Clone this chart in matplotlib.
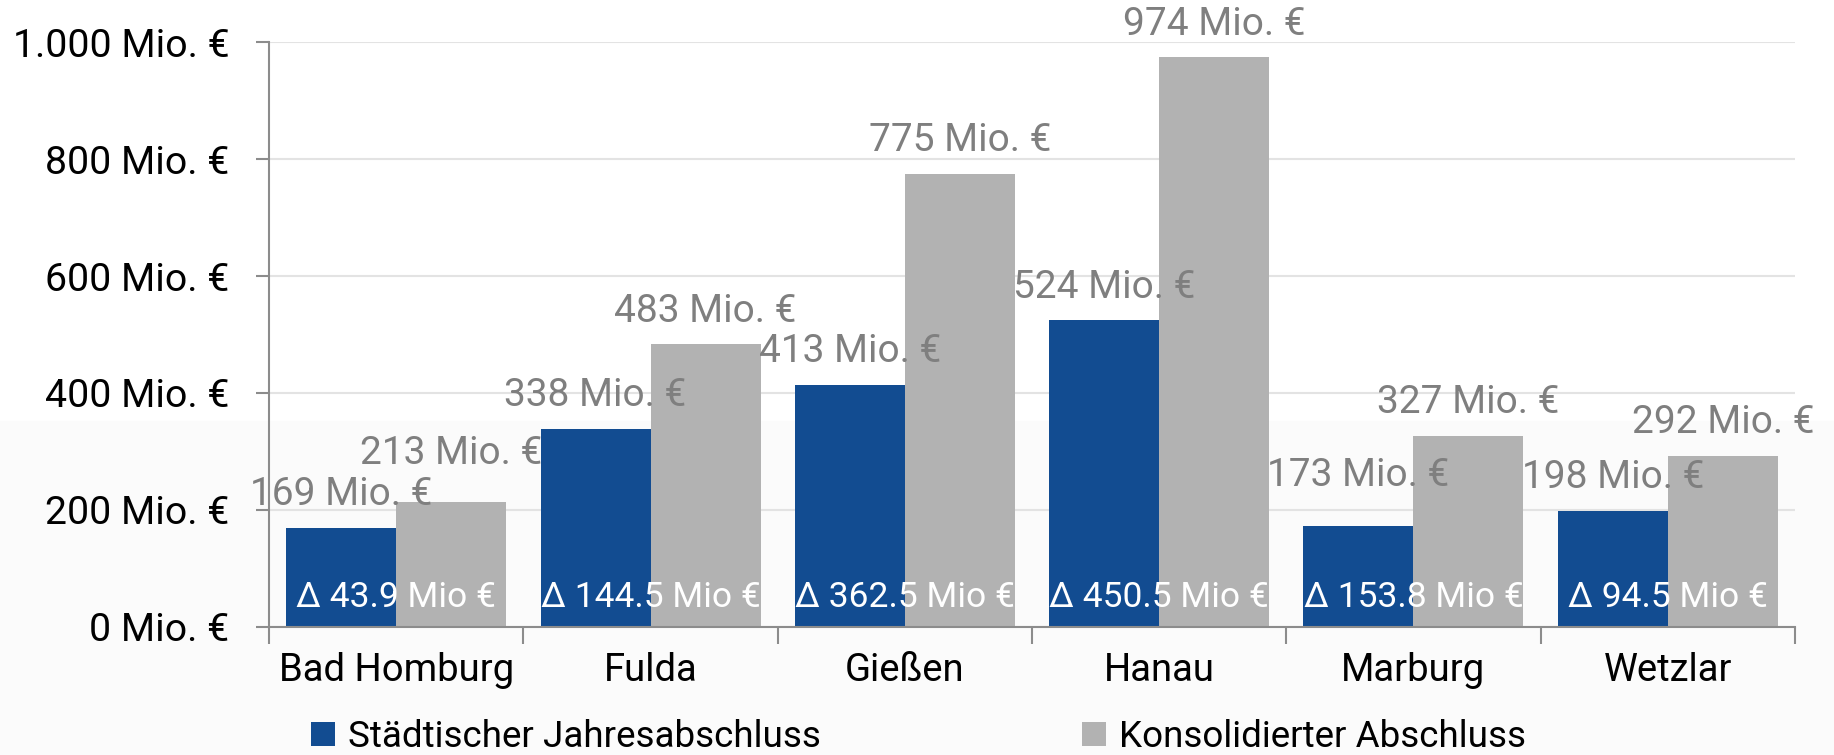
import numpy as np
import matplotlib
matplotlib.use('Agg')
import matplotlib.pyplot as plt

cities = ['Bad Homburg', 'Fulda', 'Gießen', 'Hanau', 'Marburg', 'Wetzlar']
staedtisch = [169, 338, 413, 524, 173, 198]
konsolidiert = [213, 483, 775, 974, 327, 292]
delta_labels = ['43.9', '144.5', '362.5', '450.5', '153.8', '94.5']
series_names = ['Städtischer Jahresabschluss', 'Konsolidierter Abschluss']

BLUE = '#124C91'
GREY = '#B2B2B2'
LABEL_GREY = '#7F7F7F'
AXIS = '#8C8C8C'

plt.rcParams['font.family'] = ['Roboto', 'DejaVu Sans']

fig = plt.figure(figsize=(18.34, 7.55), dpi=100)
fig.patches.append(plt.Rectangle((0, 0), 1, 0.442, transform=fig.transFigure,
                                 color='#FBFBFB', zorder=-10))
ax = fig.add_axes([0.1467, 0.170, 0.832, 0.774])
ax.set_facecolor('none')

x = np.arange(len(cities))
w = 0.4325
b1 = ax.bar(x - w / 2, staedtisch, w, color=BLUE, label=series_names[0], zorder=2)
b2 = ax.bar(x + w / 2, konsolidiert, w, color=GREY, label=series_names[1], zorder=2)

# value labels above the bars (two were nudged up to avoid overlap)
extra1 = [0, 0, 0, 0, 12, 0]
extra2 = [11, 0, 0, 0, 0, 0]
for bars, extra in ((b1, extra1), (b2, extra2)):
    for bar, e in zip(bars, extra):
        h = bar.get_height()
        ax.annotate(f'{h:.0f} Mio. €', xy=(bar.get_x() + bar.get_width() / 2, h),
                    xytext=(0, 24 + e), textcoords='offset points',
                    ha='center', va='center', fontsize=28, color=LABEL_GREY, zorder=3)

for xi, d in zip(x, delta_labels):
    ax.text(xi, 50, f'Δ {d} Mio €', ha='center', va='center', fontsize=25.5,
            color='white', zorder=4)

ax.set_xlim(-0.5, len(cities) - 0.5)
ax.set_ylim(0, 1000)
ax.set_yticks(range(0, 1001, 200))
ax.set_yticklabels([f'{v:,.0f}'.replace(',', '.') + ' Mio. €' for v in range(0, 1001, 200)])
ax.set_xticks(np.arange(-0.5, len(cities), 1))
ax.set_xticklabels([])
ax.set_xticks(x, minor=True)
ax.set_xticklabels(cities, minor=True)
ax.tick_params(axis='x', which='minor', length=0, pad=18, labelsize=27.5)
ax.tick_params(axis='x', which='major', length=12, color=AXIS, width=1.5)
ax.tick_params(axis='y', length=9.5, color=AXIS, width=1.5, labelsize=28.3, pad=19)

ax.grid(axis='y', color='#E3E3E3', linewidth=1.5, zorder=0)
for s in ('top', 'right'):
    ax.spines[s].set_visible(False)
for s in ('left', 'bottom'):
    ax.spines[s].set_color(AXIS)
    ax.spines[s].set_linewidth(1.5)

fig.legend(loc='center', bbox_to_anchor=(0.5006, 0.024), ncol=2, frameon=False,
           fontsize=26.5, handlelength=0.65, handleheight=0.65, handletextpad=0.35,
           columnspacing=7.1)

fig.savefig('out.png', dpi=100)
